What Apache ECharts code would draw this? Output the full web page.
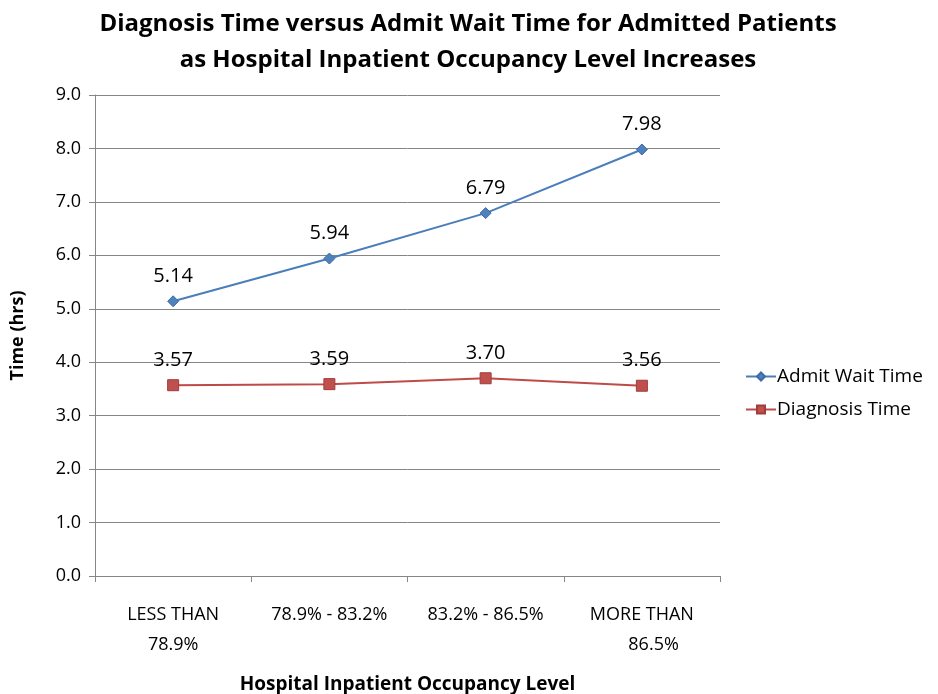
<!DOCTYPE html>
<html>
<head>
<meta charset="utf-8" />
<title>Diagnosis Time versus Admit Wait Time</title>
<style>html,body{margin:0;padding:0;background:#fff}#chart{width:938px;height:694px}</style>
<script src="https://cdn.jsdelivr.net/npm/echarts@6/dist/echarts.min.js"></script>
</head>
<body>
<div id="chart"></div>
<script>
  const categories = ["LESS THAN\n78.9%", "78.9% - 83.2%", "83.2% - 86.5%", "MORE THAN\n     86.5%"];
  const admitWait = [5.14, 5.94, 6.79, 7.98];
  const diagnosis = [3.57, 3.59, 3.70, 3.56];

  const font = "'Open Sans', 'Liberation Sans', sans-serif";
  const chart = echarts.init(document.getElementById("chart"), null, { renderer: "canvas" });

  chart.setOption({
    animation: false,
    textStyle: { fontFamily: font },
    title: {
      text: "Diagnosis Time versus Admit Wait Time for Admitted Patients\nas Hospital Inpatient Occupancy Level Increases",
      left: 463, top: 1, textAlign: "center",
      textStyle: { fontSize: 24, fontWeight: "bold", color: "#000", lineHeight: 36, fontFamily: font },
    },
    grid: { left: 95, right: 218, top: 95, bottom: 118, containLabel: false, outerBoundsMode: "none" },
    legend: {
      orient: "vertical", left: 740, top: 362, itemGap: 14,
      itemWidth: 30, itemHeight: 10,
      textStyle: { fontSize: 19, color: "#000", fontFamily: font, padding: [0, 0, 0, -4] },
      data: ["Admit Wait Time", "Diagnosis Time"],
    },
    xAxis: {
      type: "category", data: categories, boundaryGap: true,
      name: "Hospital Inpatient Occupancy Level", nameLocation: "middle", nameGap: 99,
      nameTextStyle: { fontSize: 19, fontWeight: "bold", color: "#000" },
      axisLine: { lineStyle: { color: "#868686" } },
      axisTick: { show: true, length: 6, lineStyle: { color: "#868686" } },
      axisLabel: { fontSize: 18, color: "#000", margin: 24, lineHeight: 30 },
    },
    yAxis: {
      type: "value", min: 0, max: 9, interval: 1,
      name: "Time (hrs)", nameLocation: "middle", nameGap: 68, nameRotate: 90,
      nameTextStyle: { fontSize: 18, fontWeight: "bold", color: "#000" },
      axisLine: { show: true, lineStyle: { color: "#868686" } },
      axisTick: { show: true, length: 6, inside: false, lineStyle: { color: "#868686" } },
      axisLabel: { fontSize: 18, color: "#000", margin: 14, formatter: (v) => v.toFixed(1) },
      splitLine: { lineStyle: { color: "#868686", width: 1 } },
    },
    series: [
      {
        name: "Admit Wait Time", type: "line", data: admitWait,
        symbol: "diamond", symbolSize: 11,
        lineStyle: { color: "#4a7ebb", width: 2 },
        itemStyle: { color: "#4f81bd", borderColor: "#3c6aa6", borderWidth: 1 },
        label: { show: true, position: "top", distance: 9, fontSize: 20, color: "#000", formatter: (p) => p.value.toFixed(2) },
      },
      {
        name: "Diagnosis Time", type: "line", data: diagnosis,
        symbol: "rect", symbolSize: 11,
        lineStyle: { color: "#be4b48", width: 2 },
        itemStyle: { color: "#c0504d", borderColor: "#a03d3a", borderWidth: 1 },
        label: { show: true, position: "top", distance: 9, fontSize: 20, color: "#000", formatter: (p) => p.value.toFixed(2) },
      },
    ],
  });
</script>
</body>
</html>
